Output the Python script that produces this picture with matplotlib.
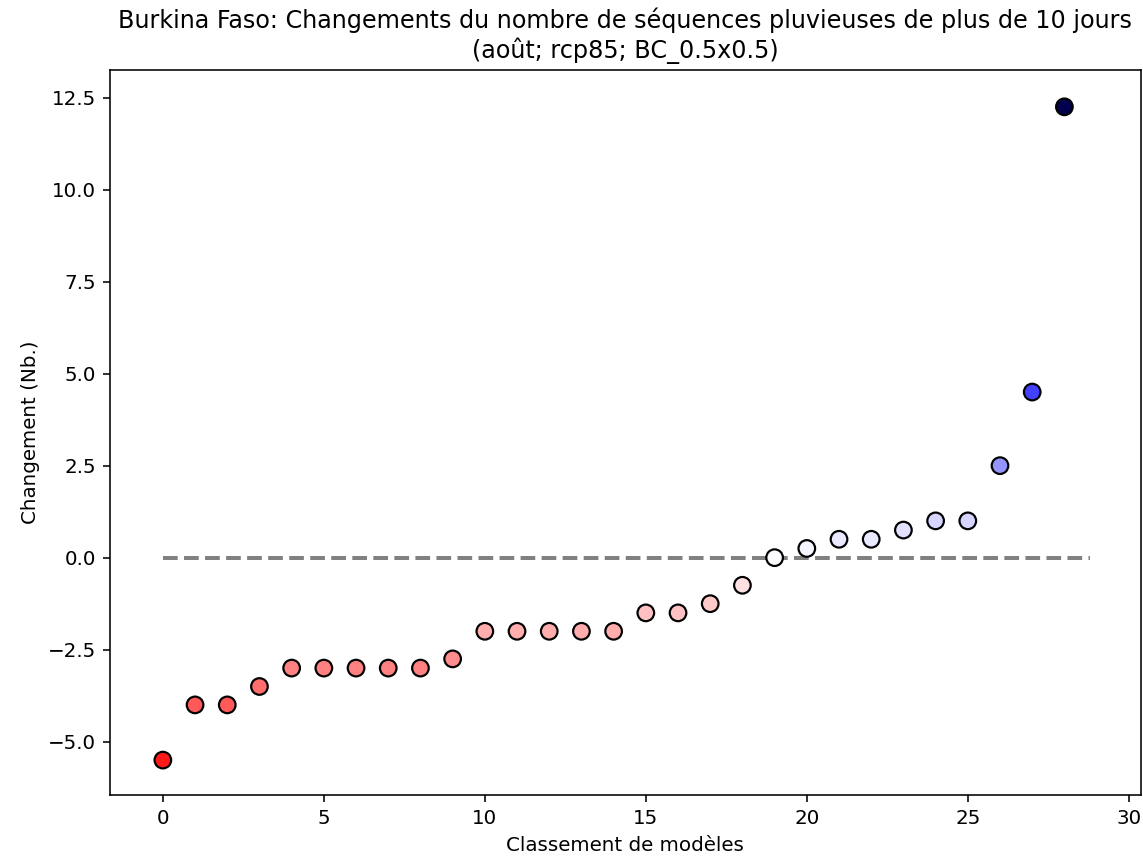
import matplotlib
matplotlib.use("Agg")
import matplotlib.pyplot as plt
import numpy as np

# model ranking and change in number of rainy sequences (>10 days)
ranks = list(range(29))
changes = [-5.5, -4.0, -4.0, -3.5, -3.0, -3.0, -3.0, -3.0, -3.0, -2.75,
           -2.0, -2.0, -2.0, -2.0, -2.0, -1.5, -1.5, -1.25, -0.75, 0.0,
           0.25, 0.5, 0.5, 0.75, 1.0, 1.0, 2.5, 4.5, 12.25]

title = "Burkina Faso: Changements du nombre de séquences pluvieuses de plus de 10 jours\n(août; rcp85; BC_0.5x0.5)"

fig, ax = plt.subplots(figsize=(8, 6.027), dpi=142.875)
vmax = max(abs(v) for v in changes)
ax.plot([0, 28.8], [0, 0], color='grey', linestyle='--', linewidth=2, zorder=1)
ax.scatter(ranks, changes, c=changes, cmap='seismic_r', vmin=-vmax, vmax=vmax,
           s=70, edgecolors='black', linewidths=1.1, zorder=2)
ax.set_xlim(-1.65, 30.37)
ax.set_ylim(-6.44, 13.26)
ax.set_xlabel('Classement de modèles')
ax.set_ylabel('Changement (Nb.)')
ax.set_title(title)
fig.subplots_adjust(left=0.096, right=0.998, top=0.919, bottom=0.077)
fig.savefig('out.png')
